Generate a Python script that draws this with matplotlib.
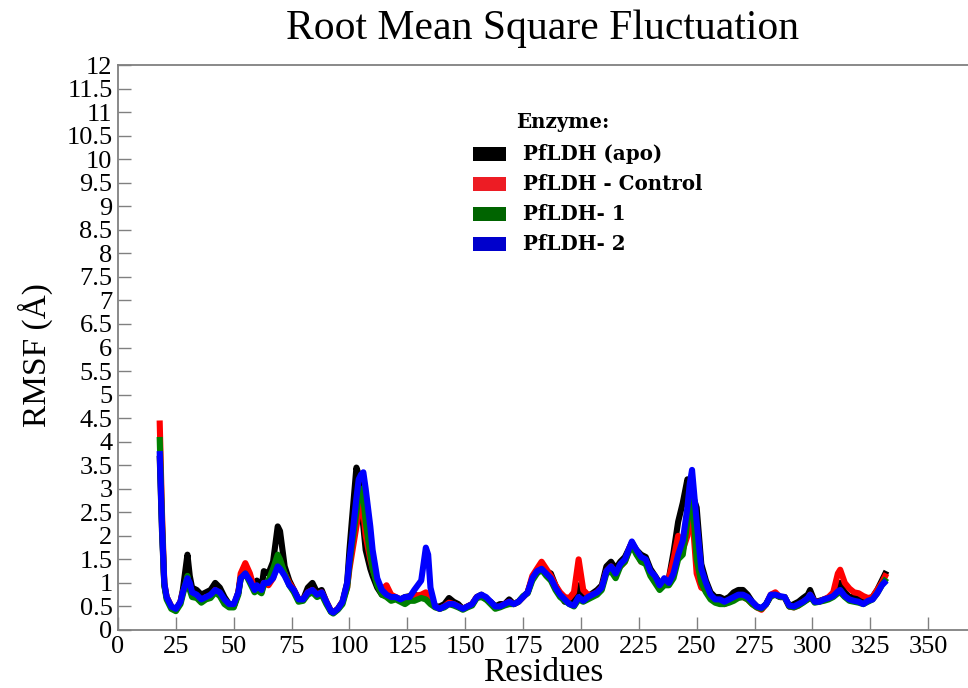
import numpy as np
import matplotlib
matplotlib.use("Agg")
import matplotlib.pyplot as plt
from matplotlib.patches import Rectangle

# residue positions (shared by all four runs)
residues = [18, 19, 20, 21, 22, 23, 25, 27, 28, 30,
            31, 32, 34, 36, 38, 40, 42, 44, 46, 48,
            50, 52, 53, 55, 57, 59, 60, 62, 63, 65,
            67, 69, 70, 72, 74, 76, 78, 80, 82, 84,
            86, 88, 90, 92, 93, 95, 97, 99, 100, 101,
            103, 104, 105, 106, 107, 109, 110, 112, 114, 116,
            118, 120, 122, 124, 126, 128, 131, 133, 134, 135,
            137, 139, 141, 143, 145, 147, 149, 151, 153, 155,
            157, 159, 161, 163, 165, 167, 169, 171, 173, 175,
            177, 179, 181, 183, 185, 187, 189, 191, 193, 195,
            197, 199, 201, 203, 205, 207, 209, 211, 213, 215,
            217, 219, 221, 222, 224, 226, 228, 230, 232, 234,
            236, 238, 240, 242, 244, 246, 247, 248, 250, 252,
            254, 256, 258, 260, 262, 264, 266, 268, 270, 272,
            274, 276, 278, 280, 282, 284, 286, 288, 290, 292,
            294, 296, 298, 299, 301, 303, 305, 307, 309, 311,
            312, 314, 316, 318, 320, 322, 324, 326, 328, 330,
            332]

rmsf_apo = [3.7, 2.1, 0.95, 0.7, 0.6, 0.5, 0.42, 0.6, 0.85, 1.6,
            1.15, 0.9, 0.85, 0.75, 0.8, 0.85, 1.0, 0.9, 0.7, 0.55,
            0.5, 0.8, 1.1, 1.2, 1.05, 0.9, 1.05, 0.9, 1.25, 1.2,
            1.45, 2.2, 2.1, 1.35, 1.05, 0.85, 0.65, 0.65, 0.9, 1.0,
            0.8, 0.85, 0.6, 0.4, 0.37, 0.45, 0.6, 1.0, 1.7, 2.3,
            3.45, 3.3, 2.6, 2.2, 1.7, 1.3, 1.15, 0.9, 0.75, 0.75,
            0.65, 0.68, 0.65, 0.7, 0.72, 0.75, 0.7, 0.75, 0.65, 0.6,
            0.5, 0.5, 0.55, 0.68, 0.6, 0.55, 0.45, 0.5, 0.55, 0.7,
            0.75, 0.65, 0.6, 0.5, 0.55, 0.55, 0.65, 0.55, 0.6, 0.7,
            0.8, 1.1, 1.25, 1.3, 1.25, 1.2, 0.95, 0.75, 0.6, 0.6,
            0.6, 0.95, 0.75, 0.72, 0.78, 0.85, 0.95, 1.35, 1.45, 1.3,
            1.45, 1.55, 1.75, 1.85, 1.7, 1.6, 1.55, 1.3, 1.15, 1.0,
            1.05, 1.1, 1.65, 2.3, 2.7, 3.2, 3.1, 2.9, 2.6, 1.4,
            1.05, 0.8, 0.7, 0.7, 0.65, 0.7, 0.8, 0.85, 0.85, 0.75,
            0.6, 0.5, 0.45, 0.55, 0.72, 0.75, 0.7, 0.7, 0.5, 0.55,
            0.6, 0.68, 0.75, 0.85, 0.6, 0.62, 0.65, 0.68, 0.75, 0.95,
            1.0, 0.8, 0.7, 0.7, 0.65, 0.6, 0.65, 0.7, 0.85, 1.05,
            1.25]

rmsf_control = [4.45, 2.5, 1.0, 0.7, 0.6, 0.5, 0.42, 0.6, 0.8, 1.05,
                0.9, 0.75, 0.72, 0.62, 0.7, 0.7, 0.85, 0.75, 0.6, 0.5,
                0.5, 0.8, 1.2, 1.42, 1.2, 0.85, 0.9, 0.8, 1.0, 0.95,
                1.1, 1.45, 1.4, 1.2, 1.0, 0.85, 0.65, 0.65, 0.8, 0.85,
                0.75, 0.8, 0.6, 0.4, 0.37, 0.45, 0.6, 0.9, 1.3, 1.6,
                2.2, 2.5, 2.65, 2.5, 2.0, 1.5, 1.3, 1.0, 0.85, 0.95,
                0.75, 0.7, 0.65, 0.65, 0.7, 0.72, 0.75, 0.8, 0.7, 0.6,
                0.5, 0.45, 0.5, 0.58, 0.55, 0.5, 0.45, 0.5, 0.55, 0.7,
                0.72, 0.68, 0.58, 0.48, 0.5, 0.55, 0.6, 0.55, 0.6, 0.7,
                0.8, 1.15, 1.3, 1.45, 1.3, 1.15, 0.95, 0.8, 0.7, 0.68,
                0.8, 1.5, 0.85, 0.75, 0.75, 0.8, 0.9, 1.25, 1.35, 1.2,
                1.35, 1.45, 1.75, 1.85, 1.65, 1.45, 1.45, 1.2, 1.1, 0.9,
                1.05, 1.1, 1.5, 2.0, 1.7, 2.0, 2.6, 2.5, 1.2, 0.9,
                0.85, 0.7, 0.6, 0.6, 0.55, 0.6, 0.65, 0.7, 0.7, 0.65,
                0.55, 0.48, 0.43, 0.55, 0.75, 0.8, 0.7, 0.7, 0.5, 0.48,
                0.52, 0.6, 0.65, 0.75, 0.6, 0.6, 0.65, 0.7, 0.8, 1.2,
                1.28, 1.0, 0.88, 0.8, 0.78, 0.72, 0.68, 0.7, 0.85, 1.0,
                1.2]

rmsf_lig1 = [4.1, 2.3, 0.95, 0.65, 0.55, 0.45, 0.4, 0.55, 0.75, 1.15,
             0.85, 0.7, 0.68, 0.58, 0.65, 0.68, 0.8, 0.72, 0.55, 0.48,
             0.48, 0.75, 1.1, 1.2, 1.0, 0.8, 0.85, 0.78, 0.95, 1.05,
             1.3, 1.6, 1.5, 1.2, 0.95, 0.8, 0.6, 0.62, 0.75, 0.8,
             0.7, 0.75, 0.55, 0.38, 0.35, 0.43, 0.55, 0.9, 1.4, 1.8,
             2.5, 2.9, 3.0, 2.8, 2.3, 1.6, 1.3, 0.95, 0.75, 0.7,
             0.62, 0.65, 0.6, 0.55, 0.62, 0.62, 0.68, 0.65, 0.6, 0.55,
             0.48, 0.45, 0.48, 0.55, 0.52, 0.48, 0.43, 0.48, 0.52, 0.68,
             0.7, 0.65, 0.55, 0.45, 0.48, 0.52, 0.55, 0.55, 0.6, 0.72,
             0.78, 1.05, 1.2, 1.28, 1.15, 1.05, 0.85, 0.7, 0.62, 0.55,
             0.5, 0.65, 0.6, 0.65, 0.7, 0.75, 0.85, 1.2, 1.25, 1.1,
             1.35, 1.45, 1.7, 1.8, 1.6, 1.45, 1.4, 1.15, 1.0, 0.85,
             0.95, 0.95, 1.1, 1.5, 1.6, 2.3, 2.8, 2.9, 1.5, 1.0,
             0.8, 0.65, 0.58, 0.55, 0.55, 0.58, 0.62, 0.68, 0.7, 0.65,
             0.55, 0.48, 0.45, 0.55, 0.72, 0.75, 0.7, 0.7, 0.5, 0.48,
             0.52, 0.58, 0.65, 0.72, 0.58, 0.6, 0.62, 0.65, 0.7, 0.78,
             0.8, 0.7, 0.62, 0.6, 0.58, 0.55, 0.6, 0.65, 0.78, 0.95,
             1.1]

rmsf_lig2 = [3.8, 2.2, 1.0, 0.7, 0.6, 0.5, 0.45, 0.6, 0.8, 1.1,
             1.0, 0.8, 0.75, 0.65, 0.7, 0.75, 0.85, 0.8, 0.65, 0.55,
             0.55, 0.8, 1.1, 1.2, 1.05, 0.85, 0.95, 0.85, 1.0, 1.0,
             1.1, 1.35, 1.3, 1.15, 0.95, 0.85, 0.65, 0.65, 0.8, 0.85,
             0.75, 0.8, 0.6, 0.4, 0.37, 0.45, 0.6, 1.0, 1.5, 1.9,
             2.8, 3.2, 3.3, 3.35, 3.0, 2.2, 1.7, 1.1, 0.85, 0.75,
             0.7, 0.7, 0.65, 0.7, 0.7, 0.85, 1.05, 1.75, 1.6, 0.9,
             0.5, 0.45, 0.5, 0.55, 0.55, 0.5, 0.45, 0.5, 0.55, 0.7,
             0.75, 0.7, 0.6, 0.5, 0.5, 0.55, 0.6, 0.55, 0.6, 0.7,
             0.8, 1.1, 1.25, 1.3, 1.2, 1.1, 0.9, 0.75, 0.65, 0.55,
             0.52, 0.7, 0.62, 0.7, 0.75, 0.8, 0.9, 1.25, 1.35, 1.2,
             1.4, 1.5, 1.75, 1.88, 1.7, 1.55, 1.5, 1.25, 1.15, 0.95,
             1.1, 1.0, 1.2, 1.6, 1.9, 2.6, 3.1, 3.4, 2.3, 1.3,
             1.0, 0.75, 0.65, 0.65, 0.6, 0.65, 0.7, 0.75, 0.75, 0.7,
             0.6, 0.5, 0.47, 0.55, 0.75, 0.75, 0.72, 0.7, 0.52, 0.5,
             0.55, 0.6, 0.68, 0.75, 0.6, 0.6, 0.65, 0.68, 0.72, 0.82,
             0.85, 0.72, 0.65, 0.62, 0.6, 0.55, 0.62, 0.65, 0.78, 0.95,
             1.05]

labels = ["PfLDH (apo)", "PfLDH - Control", "PfLDH- 1", "PfLDH- 2"]
line_colors = ["#000000", "#ff0000", "#008000", "#0000ff"]
patch_colors = ["#000000", "#ed1c24", "#006400", "#0000cc"]

x_ticks = np.arange(0, 351, 25)
y_ticks = np.arange(0, 12.01, 0.5)

plt.rcParams["font.family"] = "Liberation Serif"

fig = plt.figure(figsize=(9.68, 6.88), dpi=100)
# axes run past the right edge of the picture like the original
ax = fig.add_axes([118 / 968, 58 / 688, 868 / 968, 565 / 688])

series = [rmsf_apo, rmsf_control, rmsf_lig1, rmsf_lig2]
for vals, col in zip(series, line_colors):
    ax.plot(residues, vals, color=col, lw=4.4, solid_joinstyle="round",
            solid_capstyle="butt")

ax.set_xlim(0, 375)
ax.set_ylim(0, 12)
ax.set_xticks(x_ticks)
ax.set_yticks(y_ticks)
ax.set_yticklabels([("%g" % v) for v in y_ticks])
ax.tick_params(direction="in", length=9.5, width=1.0, color="#808080",
               labelsize=19, pad=4)
for s in ax.spines.values():
    s.set_color("#808080")
    s.set_linewidth(1.3)

fig.text(543 / 968, 1 - 29 / 688, "Root Mean Square Fluctuation",
         ha="center", va="center", fontsize=30)
fig.text(543 / 968, 1 - 673 / 688, "Residues", ha="center", va="center",
         fontsize=24)
fig.text(35 / 968, 1 - 355 / 688, "RMSF (Å)", ha="center", va="center",
         rotation=90, fontsize=24)

# legend, drawn by hand to keep the original spacing
leg_font = dict(family="DejaVu Serif", fontweight="bold", fontsize=14.3)
fig.text(516 / 968, 1 - 122 / 688, "Enzyme:", ha="left", va="center",
         **leg_font)
for i, (lab, col) in enumerate(zip(labels, patch_colors)):
    yc = 154 + 30 * i
    fig.add_artist(Rectangle((473 / 968, 1 - (yc + 7) / 688), 33 / 968,
                             14 / 688, transform=fig.transFigure,
                             facecolor=col, edgecolor="none"))
    fig.text(523 / 968, 1 - yc / 688, lab, ha="left", va="center",
             **leg_font)

fig.savefig("out.png", dpi=100)
